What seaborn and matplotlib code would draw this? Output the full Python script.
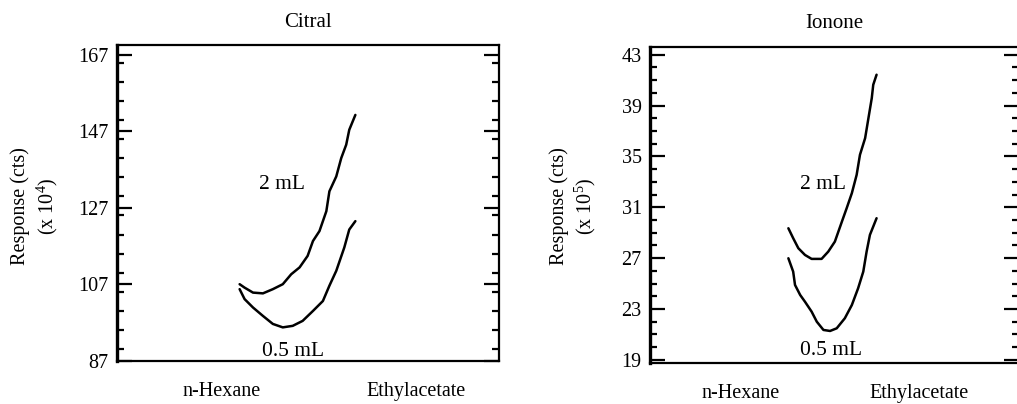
import numpy as np
import pandas as pd
import matplotlib
matplotlib.use("Agg")
import matplotlib.pyplot as plt
from matplotlib.ticker import MultipleLocator, FixedLocator
import seaborn as sns

# ---------------- data ----------------
titles = ["Citral", "Ionone"]
solvent_labels = ["n-Hexane", "Ethylacetate"]
curve_labels = ["2 mL", "0.5 mL"]

# Citral (x 10^4 cts)
citral_2ml_x = [32.1, 33.4, 35.6, 38.2, 40.8, 43.4, 45.6, 47.8, 49.9, 51.3, 53.0, 54.8, 55.6, 57.4, 58.7, 60.0, 60.8, 62.4]
citral_2ml_y = [107.0, 106.1, 104.8, 104.6, 105.7, 107.0, 109.6, 111.4, 114.4, 118.3, 120.9, 126.1, 131.3, 135.2, 140.0, 143.5, 147.4, 151.3]
citral_05ml_x = [32.1, 33.4, 35.6, 38.2, 40.8, 43.4, 46.0, 48.6, 51.3, 53.9, 55.6, 57.4, 59.5, 60.8, 62.4]
citral_05ml_y = [105.7, 103.1, 100.9, 98.7, 96.6, 95.7, 96.1, 97.4, 100.0, 102.6, 106.6, 110.5, 116.6, 121.3, 123.5]

# Ionone (x 10^5 cts)
ionone_2ml_x = [37.5, 38.8, 40.2, 42.0, 43.8, 46.5, 48.3, 50.1, 52.0, 53.3, 54.7, 56.0, 56.9, 58.3, 59.2, 60.1, 60.5, 61.4]
ionone_2ml_y = [29.35, 28.57, 27.78, 27.25, 26.94, 26.94, 27.51, 28.30, 29.87, 30.93, 32.11, 33.55, 35.13, 36.44, 38.02, 39.59, 40.64, 41.43]
ionone_05ml_x = [37.5, 38.8, 39.3, 40.7, 42.0, 43.8, 45.2, 47.0, 48.8, 50.6, 52.8, 54.7, 56.4, 57.8, 58.7, 59.6, 61.4]
ionone_05ml_y = [26.99, 25.94, 24.89, 24.10, 23.57, 22.79, 22.00, 21.35, 21.27, 21.48, 22.27, 23.31, 24.63, 25.94, 27.51, 28.83, 30.14]

citral_yticks = [87, 107, 127, 147, 167]
ionone_yticks = [19, 23, 27, 31, 35, 39, 43]
citral_xtick_pos = [27.4, 78.3]
ionone_xtick_pos = [24.5, 72.8]
exponents = ["4", "5"]

# ---------------- style ----------------
sns.set_style("ticks")
plt.rcParams["font.family"] = ["Liberation Serif", "DejaVu Serif"]
plt.rcParams["mathtext.fontset"] = "custom"
plt.rcParams["mathtext.rm"] = "Liberation Serif"
plt.rcParams["mathtext.it"] = "Liberation Serif:italic"
plt.rcParams["text.color"] = "black"
plt.rcParams["xtick.color"] = "black"
plt.rcParams["ytick.color"] = "black"

W, H = 1017, 404
fig = plt.figure(figsize=(W / 100, H / 100), dpi=100)

def px_axes(x0, y0, x1, y1):
    return fig.add_axes([x0 / W, (H - y1) / H, (x1 - x0) / W, (y1 - y0) / H])

ax1 = px_axes(117, 45, 499, 361)
ax2 = px_axes(650, 46.5, 1019, 363)

panels = [
    (ax1, citral_2ml_x, citral_2ml_y, citral_05ml_x, citral_05ml_y, citral_yticks, 5,
     (86.9, 169.6), citral_xtick_pos, [(43.3, 133.1), (46.0, 89.5)]),
    (ax2, ionone_2ml_x, ionone_2ml_y, ionone_05ml_x, ionone_05ml_y, ionone_yticks, 1,
     (18.75, 43.65), ionone_xtick_pos, [(46.9, 32.8), (49.0, 19.7)]),
]

fs = 14.5
for i, (ax, x2, y2, x05, y05, yt, minor, ylim, xtp, lblpos) in enumerate(panels):
    df = pd.concat([
        pd.DataFrame({"x": x2, "y": y2, "vol": curve_labels[0]}),
        pd.DataFrame({"x": x05, "y": y05, "vol": curve_labels[1]}),
    ])
    for vol in curve_labels:
        sub = df[df["vol"] == vol]
        sns.lineplot(data=sub, x="x", y="y", ax=ax, color="black", lw=1.8,
                     sort=False, estimator=None, legend=False)
    ax.set_xlim(0, 100)
    ax.set_ylim(*ylim)
    ax.yaxis.set_major_locator(FixedLocator(yt))
    ax.yaxis.set_minor_locator(MultipleLocator(minor))
    ax.set_yticklabels([str(v) for v in yt], fontsize=fs)
    ax.set_xticks(xtp)
    ax.set_xticklabels(solvent_labels, fontsize=fs)
    ax.tick_params(axis="x", length=0, pad=15)
    ax.tick_params(axis="y", which="major", direction="in", length=11, width=1.6,
                   left=True, right=True, pad=6, colors="black")
    ax.tick_params(axis="y", which="minor", direction="in", length=5, width=1.6,
                   left=True, right=True)
    ax.set_xlabel("")
    ax.set_ylabel("")
    ax.set_title(titles[i], fontsize=fs + 0.5, pad=13)
    for s in ax.spines.values():
        s.set_visible(True)
        s.set_linewidth(1.6)
        s.set_color("black")
    ax.spines["left"].set_linewidth(2.4)
    for (tx, ty), lab in zip(lblpos, curve_labels):
        ax.text(tx, ty, lab, fontsize=fs + 1, ha="center", va="center")

# y-axis labels
ylab_pos = [(20, 47), (559, 585)]
for (xa, xb), e in zip(ylab_pos, exponents):
    fig.text(xa / W, (H - 206) / H, "Response (cts)", rotation=90, fontsize=fs,
             ha="center", va="center")
    fig.text(xb / W, (H - 206) / H, "(x 10$^{" + e + "}$)", rotation=90, fontsize=fs,
             ha="center", va="center")

fig.savefig("out.png", dpi=100)
